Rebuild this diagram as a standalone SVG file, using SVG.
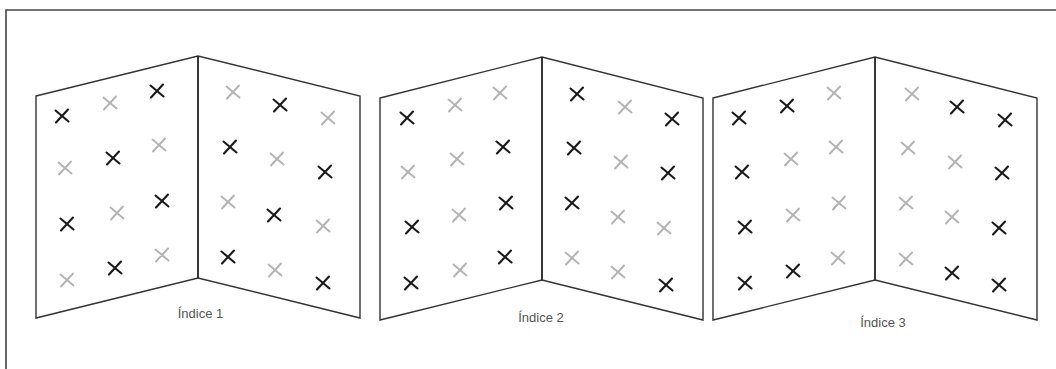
<svg xmlns="http://www.w3.org/2000/svg" width="1056" height="369" viewBox="0 0 1056 369">
<defs>
<style>
.frame{fill:none;stroke:#444;stroke-width:1.6}
.panel{fill:none;stroke:#333;stroke-width:1.4;stroke-linejoin:miter}
.spine{stroke:#222;stroke-width:1.8}
.b{stroke:#1a1a1a;stroke-width:2.1;stroke-linecap:round}
.g{stroke:#b3b3b3;stroke-width:1.9;stroke-linecap:round}
.lbl{font-family:"Liberation Sans",Arial,sans-serif;font-size:13px;fill:#555;text-anchor:middle}
</style>
<path id="x" d="M-6.5,-5.5 L6.5,5.5 M6,-6.5 L-6,6.5"/>
</defs>
<rect width="1056" height="369" fill="#fff"/>
<path class="frame" d="M6,369 V10 H1056"/>

<g id="panel1">
<path class="panel" d="M36,96 L198,56 L360,96 L360,318 L198,278 L36,318 Z"/>
<line class="spine" x1="198" y1="56" x2="198" y2="278"/>
<g class="b">
<use href="#x" x="62" y="116"/><use href="#x" x="157" y="91"/><use href="#x" x="113" y="158"/>
<use href="#x" x="67" y="224"/><use href="#x" x="162" y="201"/><use href="#x" x="115" y="268"/>
<use href="#x" x="280" y="105"/><use href="#x" x="230" y="147"/><use href="#x" x="325" y="172"/>
<use href="#x" x="274" y="215"/><use href="#x" x="228" y="257"/><use href="#x" x="323" y="283"/>
</g>
<g class="g">
<use href="#x" x="110" y="103"/><use href="#x" x="65" y="168"/><use href="#x" x="159" y="145"/>
<use href="#x" x="117" y="213"/><use href="#x" x="67" y="280"/><use href="#x" x="162" y="255"/>
<use href="#x" x="233" y="92"/><use href="#x" x="328" y="118"/><use href="#x" x="277" y="159"/>
<use href="#x" x="228" y="202"/><use href="#x" x="323" y="226"/><use href="#x" x="275" y="270"/>
</g>
<text class="lbl" x="200.5" y="318">Índice 1</text>
</g>

<g id="panel2">
<path class="panel" d="M380,98 L542,57 L703,98 L703,320 L542,280 L380,320 Z"/>
<line class="spine" x1="542" y1="57" x2="542" y2="280"/>
<g class="b">
<use href="#x" x="407" y="118"/><use href="#x" x="503" y="147"/><use href="#x" x="412" y="227"/>
<use href="#x" x="506" y="203"/><use href="#x" x="411" y="283"/><use href="#x" x="505" y="257"/>
<use href="#x" x="577" y="94"/><use href="#x" x="672" y="119"/><use href="#x" x="574" y="148"/>
<use href="#x" x="668" y="173"/><use href="#x" x="572" y="203"/><use href="#x" x="666" y="285"/>
</g>
<g class="g">
<use href="#x" x="455" y="105"/><use href="#x" x="500" y="93"/><use href="#x" x="408" y="172"/>
<use href="#x" x="457" y="159"/><use href="#x" x="459" y="215"/><use href="#x" x="460" y="270"/>
<use href="#x" x="625" y="107"/><use href="#x" x="621" y="162"/><use href="#x" x="618" y="217"/>
<use href="#x" x="664" y="228"/><use href="#x" x="572" y="258"/><use href="#x" x="618" y="272"/>
</g>
<text class="lbl" x="541" y="322">Índice 2</text>
</g>

<g id="panel3">
<path class="panel" d="M713,98 L875,57 L1037,98 L1037,320 L875,280 L713,320 Z"/>
<line class="spine" x1="875" y1="57" x2="875" y2="280"/>
<g class="b">
<use href="#x" x="739" y="118"/><use href="#x" x="787" y="106"/><use href="#x" x="742" y="172"/>
<use href="#x" x="745" y="227"/><use href="#x" x="745" y="283"/><use href="#x" x="793" y="271"/>
<use href="#x" x="957" y="107"/><use href="#x" x="1005" y="120"/><use href="#x" x="1002" y="173"/>
<use href="#x" x="999" y="228"/><use href="#x" x="952" y="273"/><use href="#x" x="999" y="285"/>
</g>
<g class="g">
<use href="#x" x="834" y="93"/><use href="#x" x="791" y="159"/><use href="#x" x="836" y="147"/>
<use href="#x" x="793" y="215"/><use href="#x" x="839" y="203"/><use href="#x" x="838" y="258"/>
<use href="#x" x="912" y="94"/><use href="#x" x="908" y="148"/><use href="#x" x="955" y="162"/>
<use href="#x" x="906" y="203"/><use href="#x" x="952" y="217"/><use href="#x" x="906" y="259"/>
</g>
<text class="lbl" x="883" y="327">Índice 3</text>
</g>
</svg>
